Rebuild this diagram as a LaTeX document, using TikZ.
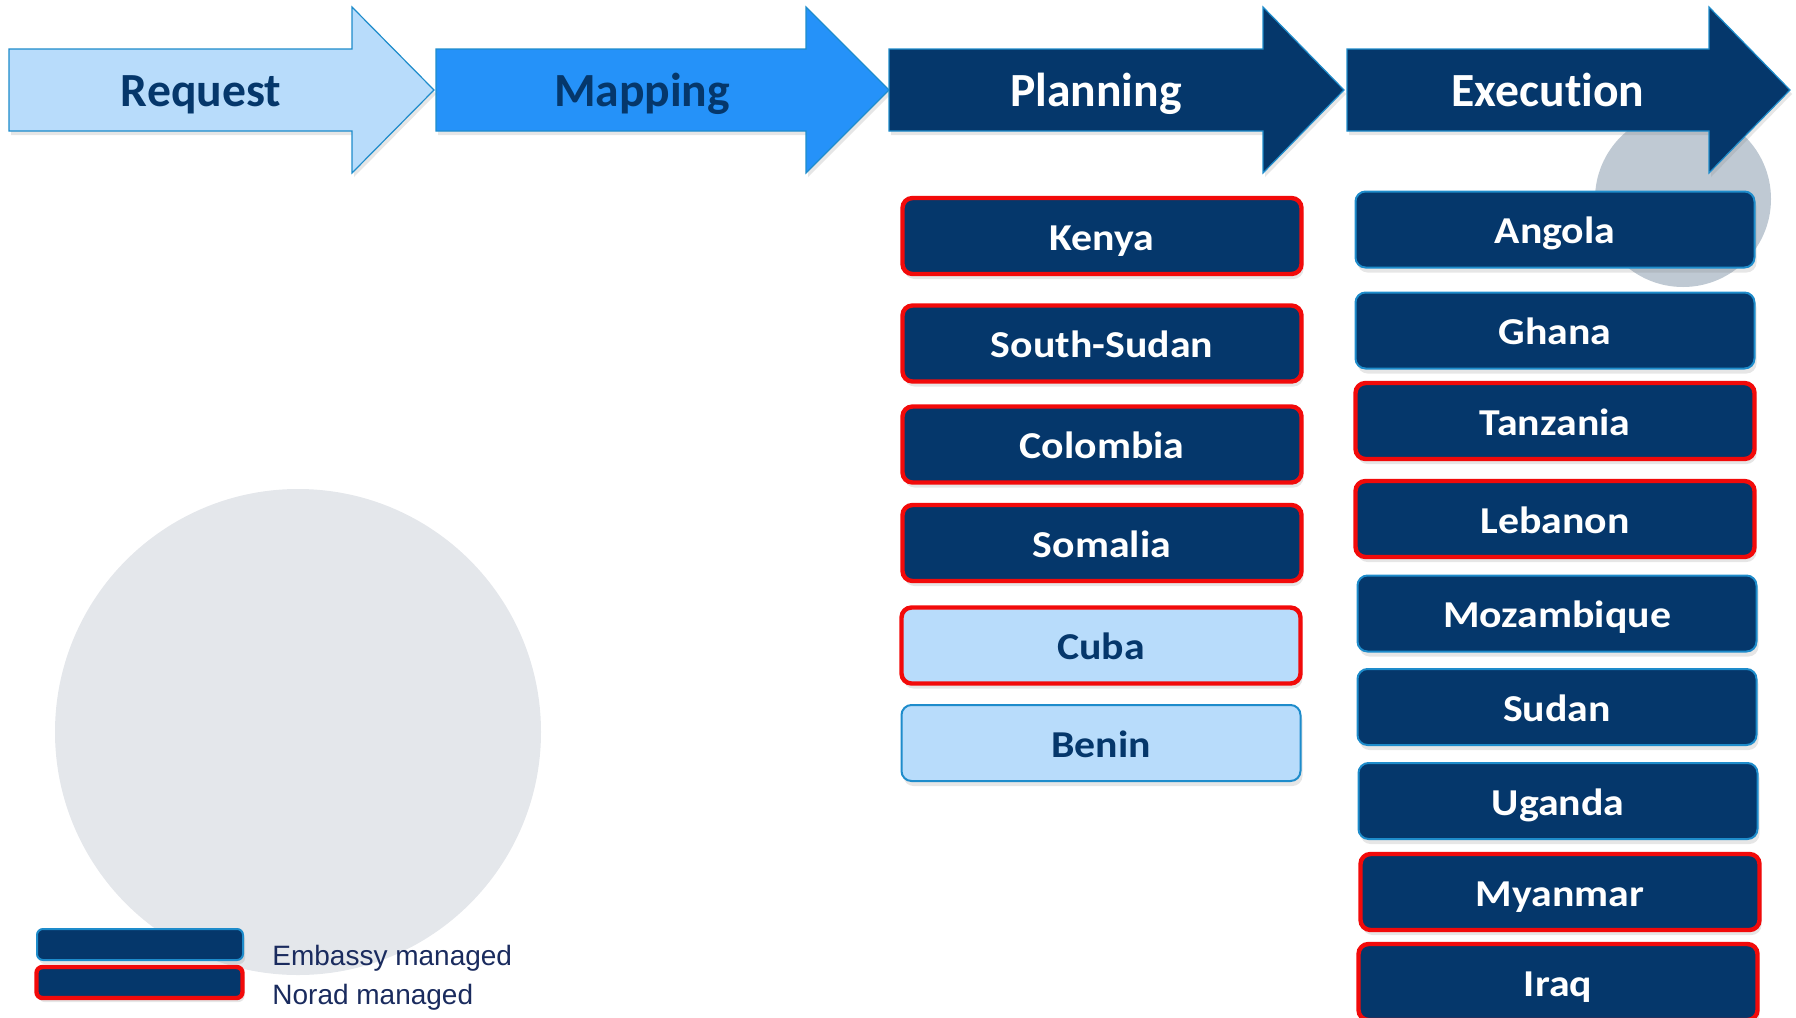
\documentclass[tikz,border=0pt]{standalone}
\usepackage{fontspec}
\setmainfont{Carlito}[Ligatures=NoCommon]
\newfontfamily\boxfont{Carlito}[Ligatures=NoCommon,FakeStretch=1.1]
\newfontfamily\legendfont{Liberation Sans}
\usetikzlibrary{shadows}

\definecolor{navy}{HTML}{05376B}
\definecolor{paleblue}{HTML}{B8DCFB}
\definecolor{midblue}{HTML}{2592F9}
\definecolor{edgeblue}{HTML}{1E8CCB}
\definecolor{noradred}{HTML}{F20A0A}
\definecolor{discgrey}{HTML}{E4E7EB}
\definecolor{discblue}{HTML}{BFC9D3}
\definecolor{legendtext}{HTML}{1A2B5E}

\begin{document}
\begin{tikzpicture}[x=0.5pt,y=-0.5pt]
\tikzstyle{stage}=[draw=edgeblue,line width=0.6pt,drop shadow={shadow xshift=1pt,shadow yshift=-2pt,opacity=.2}]
\tikzstyle{stagelabel}=[anchor=base,font=\bfseries\fontsize{23.8}{28}\selectfont]
\tikzstyle{country}=[rectangle,rounded corners=5pt,fill=navy,draw=edgeblue,line width=1pt,
  minimum width=199.5pt,minimum height=38pt,inner sep=0pt,text=white,
  font=\boxfont\bfseries\fontsize{19}{23}\selectfont,text height=14pt,text depth=0pt,
  drop shadow={shadow xshift=1pt,shadow yshift=-2.5pt,opacity=.2}]
\tikzstyle{norad}=[draw=noradred,line width=2.2pt]
\tikzstyle{pale}=[fill=paleblue,text=navy]
\tikzstyle{legendbox}=[rectangle,rounded corners=3pt,fill=navy,draw=edgeblue,line width=1pt,
  minimum width=103pt,minimum height=15.5pt,inner sep=0pt,
  drop shadow={shadow xshift=1pt,shadow yshift=-2pt,opacity=.2}]
\tikzstyle{legendlabel}=[anchor=base west,inner sep=0pt,text=legendtext,font=\legendfont\fontsize{14}{17}\selectfont]

\useasboundingbox (0,0) rectangle (1796,1018);

% background discs
\fill[discgrey] (298,732) circle (121.5pt);
\fill[discblue] (1683,199) circle (44pt);

% process arrows
\draw[stage,fill=paleblue] (9,49) -- (352,49) -- (352,7) -- (434,90) -- (352,173) -- (352,131) -- (9,131) -- cycle;
\draw[stage,fill=midblue] (436,49) -- (806,49) -- (806,7) -- (889,90) -- (806,173) -- (806,131) -- (436,131) -- cycle;
\draw[stage,fill=navy] (889,49) -- (1263,49) -- (1263,7) -- (1344,90) -- (1263,173) -- (1263,131) -- (889,131) -- cycle;
\draw[stage,fill=navy] (1347,49) -- (1709,49) -- (1709,7) -- (1790,90) -- (1709,173) -- (1709,131) -- (1347,131) -- cycle;

\node[stagelabel,text=navy] (request) at (201,106) {Request};
\node[stagelabel,text=navy] (mapping) at (642,106) {Mapping};
\node[stagelabel,text=white] (planning) at (1096,106) {Planning};
\node[stagelabel,text=white] (execution) at (1548,106) {Execution};

% planning column
\node[country,norad] (kenya) at (1102,236) {Kenya};
\node[country,norad] (ssudan) at (1102,343.5) {South-Sudan};
\node[country,norad] (colombia) at (1102,444.5) {Colombia};
\node[country,norad] (somalia) at (1102,543) {Somalia};
\node[country,norad,pale] (cuba) at (1101,645.5) {Cuba};
\node[country,pale] (benin) at (1101,743) {Benin};

% execution column
\node[country] (angola) at (1555,229.5) {Angola};
\node[country] (ghana) at (1555,330.5) {Ghana};
\node[country,norad] (tanzania) at (1555,421) {Tanzania};
\node[country,norad] (lebanon) at (1555,519) {Lebanon};
\node[country] (mozambique) at (1557,613.5) {Mozambique};
\node[country] (sudan) at (1557,707) {Sudan};
\node[country] (uganda) at (1558,801) {Uganda};
\node[country,norad] (myanmar) at (1560,892) {Myanmar};
\node[country,norad] (iraq) at (1558,982) {Iraq};

% legend
\node[legendbox] (embassykey) at (140,944.5) {};
\node[legendbox,norad] (noradkey) at (139.5,982.5) {};
\node[legendlabel] (embassytext) at (272,965) {Embassy managed};
\node[legendlabel] (noradtext) at (272,1004) {Norad managed};
\end{tikzpicture}
\end{document}
